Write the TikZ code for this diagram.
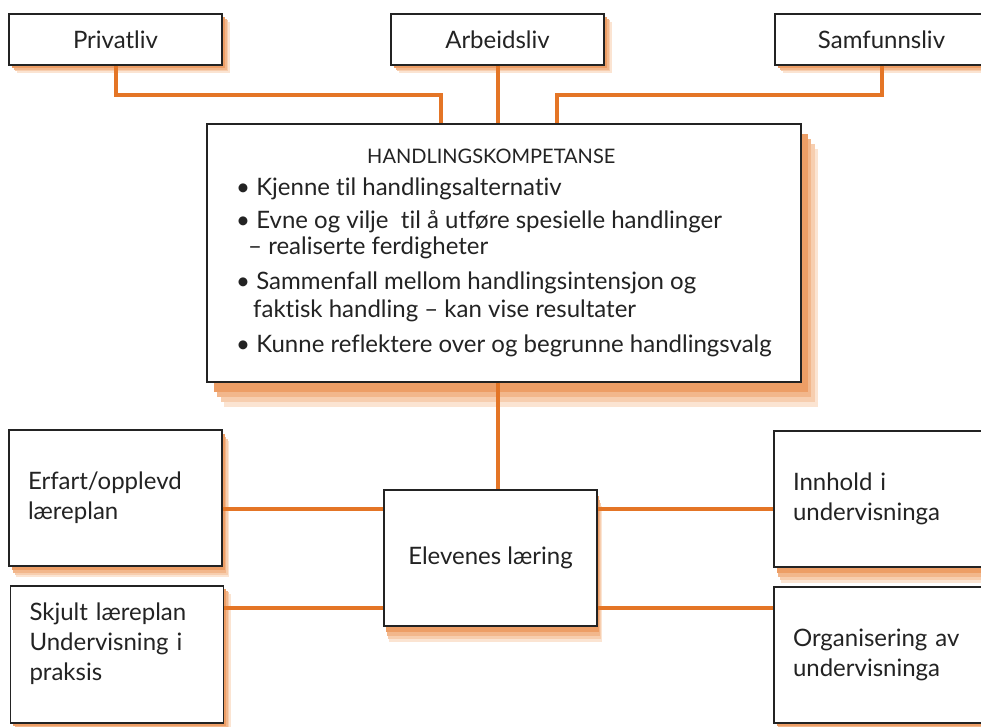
\documentclass[tikz,border=0pt]{standalone}
\usepackage{fontspec}
\setmainfont{Lato}[Ligatures={NoCommon}]
\usetikzlibrary{shadows}

\definecolor{lineor}{RGB}{228,117,38}
\definecolor{shA}{RGB}{237,158,102}
\definecolor{shB}{RGB}{242,183,140}
\definecolor{shC}{RGB}{247,206,175}
\definecolor{shD}{RGB}{251,228,210}
\definecolor{ink}{RGB}{35,35,35}

\tikzset{every picture/.style={line width=1.4pt}}
\tikzset{
  stack/.style 2 args={
    general shadow={fill=shD, shadow xshift=#1, shadow yshift=-#2},
    general shadow={fill=shC, shadow xshift=0.8*#1, shadow yshift=-0.8*#2},
    general shadow={fill=shB, shadow xshift=0.6*#1, shadow yshift=-0.6*#2},
    general shadow={fill=shA, shadow xshift=0.4*#1, shadow yshift=-0.4*#2}},
  box/.style={draw=ink, fill=white, text=ink, inner sep=0pt, font=\fontsize{24}{30}\selectfont},
  topbox/.style={box, minimum width=213pt, minimum height=51pt, stack={8pt}{8pt}},
  sidebox/.style={box, minimum width=213pt, minimum height=136pt, text width=175pt, align=left},
  link/.style={draw=lineor, line width=4pt},
}

\begin{document}
\begin{tikzpicture}[x=1pt,y=-1pt]
\useasboundingbox (0,0) rectangle (981,726);
\clip (0,0) rectangle (981,726);

% top row
\node[topbox] (priv) at (115.5,39.5) {Privatliv};
\node[topbox] (arb) at (497.5,39.5) {Arbeidsliv};
\node[topbox] (samf) at (881.5,39.5) {Samfunnsliv};

% main box
\node[box, minimum width=594pt, minimum height=258pt, align=left, stack={17pt}{25pt},
      font=\fontsize{24}{26}\selectfont] (komp) at (504,253)
  {\hspace*{131pt}{\fontsize{20}{22}\selectfont HANDLINGSKOMPETANSE}\\[6pt]
   • Kjenne til handlingsalternativ\\[7pt]
   • Evne og vilje\ \ til å utføre spesielle handlinger\\
   \hspace*{12pt}– realiserte ferdigheter\\[9pt]
   • Sammenfall mellom handlingsintensjon og\\[2pt]
   \hspace*{17pt}faktisk handling – kan vise resultater\\[9pt]
   • Kunne reflektere over og begrunne handlingsvalg};

% centre
\node[box, minimum width=213pt, minimum height=136pt, stack={5pt}{16pt}] (elev) at (490.5,558) {Elevenes læring};

% side boxes
\node[sidebox, stack={7pt}{11pt}] (erf) at (115.5,498) {Erfart/opplevd\\læreplan};
\node[sidebox, minimum height=137pt, text depth=85pt, stack={7pt}{8pt}] (skj) at (117,654.5) {Skjult læreplan\\Undervisning i\\praksis};
\node[sidebox, stack={7pt}{16pt}] (innh) at (880.5,499) {Innhold i\\undervisninga};
\node[sidebox, stack={7pt}{8pt}] (org) at (880.5,655) {Organisering av\\undervisninga};

% connectors
\coordinate (jl) at (441,95);
\coordinate (jr) at (557,95);
\coordinate (hA) at (0,509);
\coordinate (hB) at (0,608);
\draw[link] (priv.south) |- (jl) -- (jl |- komp.north);
\draw[link] (samf.south) |- (jr) -- (jr |- komp.north);
\draw[link] (arb.south) -- (arb.south |- komp.north);
\draw[link] (arb.south |- komp.south) -- (arb.south |- elev.north);
\draw[link] (erf.east |- hA) -- (elev.west |- hA);
\draw[link] (skj.east |- hB) -- (elev.west |- hB);
\draw[link] (elev.east |- hA) -- (innh.west |- hA);
\draw[link] (elev.east |- hB) -- (org.west |- hB);

\end{tikzpicture}
\end{document}
